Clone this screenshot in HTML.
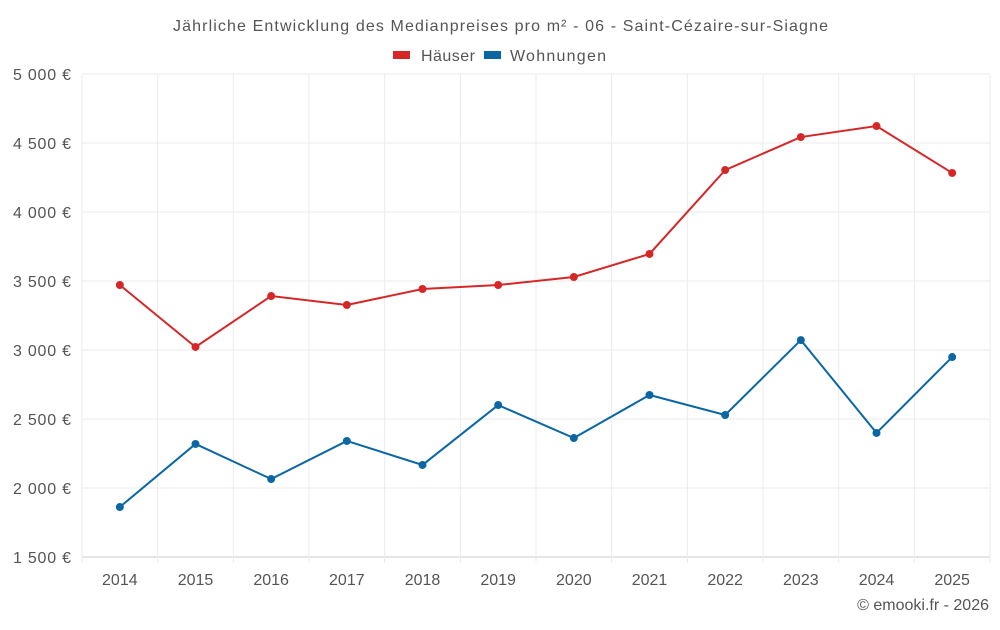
<!DOCTYPE html>
<html><head><meta charset="utf-8"><style>
body{margin:0;background:#fff;font-family:"Liberation Sans",sans-serif;}
svg text{font-family:"Liberation Sans",sans-serif;fill:#555;}
</style></head><body>
<svg id="c" width="1000" height="625">
<text x="173" y="31" font-size="16" textLength="655" lengthAdjust="spacing">Jährliche Entwicklung des Medianpreises pro m² - 06 - Saint-Cézaire-sur-Siagne</text>
<g>
<g><rect x="393" y="51" width="17" height="8" fill="#d62728"/><text x="421" y="61" font-size="16" textLength="54">Häuser</text></g>
<g><rect x="484" y="51" width="17" height="8" fill="#0a67a3"/><text x="510" y="61" font-size="16" textLength="96">Wohnungen</text></g>
</g>
<g id="grid"></g><g id="axes"></g><g id="series"></g>
<text x="989" y="610" text-anchor="end" font-size="16">© emooki.fr - 2026</text>
</svg>
<script>
const years=[2014,2015,2016,2017,2018,2019,2020,2021,2022,2023,2024,2025];
const haeuser=[3471,3022,3391,3326,3442,3471,3529,3696,4304,4543,4623,4283];
const wohnungen=[1862,2319,2065,2341,2167,2601,2362,2674,2529,3072,2399,2949];
const yTicks=[1500,2000,2500,3000,3500,4000,4500,5000];
const yTickLabels=["1 500 €","2 000 €","2 500 €","3 000 €","3 500 €","4 000 €","4 500 €","5 000 €"];
const L=82,R=990,T=74,B=557,yMin=1500,yMax=5000;
const bw=(R-L)/years.length;
const x=i=>L+bw*(i+0.5);
const y=v=>B-(v-yMin)/(yMax-yMin)*(B-T);
const NS="http://www.w3.org/2000/svg";
function mk(p,t,a){const e=document.createElementNS(NS,t);for(const k in a)e.setAttribute(k,a[k]);p.appendChild(e);return e;}
const g=document.getElementById('grid'),ax=document.getElementById('axes'),s=document.getElementById('series');
yTicks.forEach((v,i)=>{
 const l=mk(g,'line',{x1:L,x2:R,y1:y(v),y2:y(v),stroke:i==0?'#ccc':'#ebebeb','stroke-width':1});
 
 
 const t=mk(ax,'text',{x:71,y:y(v)+6,'text-anchor':'end','font-size':16,textLength:58});
 t.textContent=yTickLabels[i];
 
 
});
for(let i=0;i<=years.length;i++){
 const l=mk(g,'line',{x1:L+bw*i,x2:L+bw*i,y1:T,y2:B+6,stroke:'#ebebeb','stroke-width':1});
 
 
}
years.forEach((yr,i)=>{
 const t=mk(ax,'text',{x:x(i),y:585,'text-anchor':'middle','font-size':16});
 t.textContent=yr;
 
 
});
function draw(data,color,name){
 const p=mk(s,'polyline',{points:data.map((v,i)=>x(i)+','+y(v)).join(' '),fill:'none',stroke:color,'stroke-width':2});
 
 
 data.forEach((v,i)=>{
  const c=mk(s,'circle',{cx:x(i),cy:y(v),r:4,fill:color});
  
  
 });
}
draw(haeuser,'#d62728','haeuser');
draw(wohnungen,'#0a67a3','wohnungen');
</script>
</body></html>
